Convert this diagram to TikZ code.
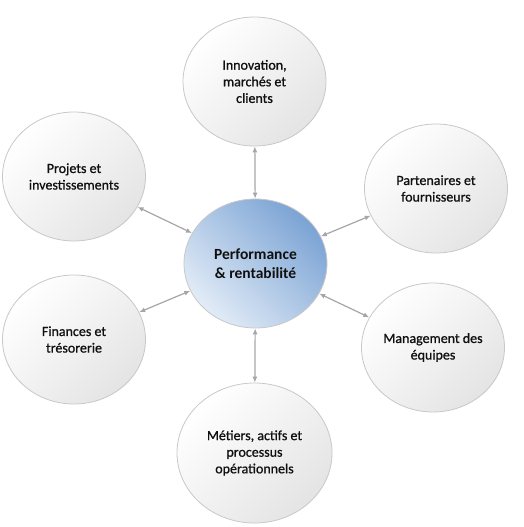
\documentclass[tikz,border=0pt]{standalone}
\usepackage{fontspec}
\setmainfont{Carlito}
\newfontfamily\heavyish[FakeBold=0.9]{Carlito}
\usetikzlibrary{shapes.geometric,arrows.meta}
\definecolor{txt}{HTML}{101010}
\definecolor{rimgray}{HTML}{C8C8C8}
\definecolor{fillhi}{HTML}{FFFFFF}
\definecolor{filllo}{HTML}{E4E4E4}
\definecolor{bluedark}{HTML}{7BA3D4}
\definecolor{bluelight}{HTML}{E2ECF7}
\definecolor{linkgray}{HTML}{A6A6A6}
\tikzset{
  outerbubble/.style={ellipse, inner sep=0pt, draw=rimgray, line width=0.8pt,
    minimum width=143pt, minimum height=129pt, align=center, text=txt,
    top color=fillhi, bottom color=filllo, shading angle=45,
    font=\heavyish\fontsize{14}{16.6}\selectfont},
  bigbubble/.style={outerbubble, minimum width=155pt, minimum height=140pt, shading angle=45},
  hubbubble/.style={ellipse, inner sep=0pt, draw=rimgray, line width=0.8pt,
    minimum width=143pt, minimum height=129pt, align=center, text=txt,
    top color=bluedark, bottom color=bluelight, shading angle=-45,
    font=\bfseries\fontsize{15.5}{19.3}\selectfont},
  link/.style={draw=linkgray, line width=1.2pt,
    {Latex[length=6pt,width=5pt]}-{Latex[length=6pt,width=5pt]}}
}
\begin{document}
\begin{tikzpicture}[x=1pt,y=-1pt]
\useasboundingbox (0,0) rectangle (524,527);
\fill[white] (0,0) rectangle (524,527);
\node[hubbubble] (hub) at (255.5,263.5) {Performance\\\& rentabilité};
\node[outerbubble] (top) at (254.5,81.5) {Innovation,\\marchés et\\clients};
\node[outerbubble] (ul) at (74,176.5) {Projets et\\investissements};
\node[outerbubble] (ur) at (436,188.5) {Partenaires et\\fournisseurs};
\node[outerbubble] (ll) at (74,339.5) {Finances et\\trésorerie};
\node[outerbubble] (lr) at (433,347.5) {Management des\\équipes};
\node[bigbubble] (bot) at (254.5,453) {Métiers, actifs et\\processus\\opérationnels};
\draw[link] (top) -- (hub);
\draw[link] (ul) -- (hub);
\draw[link] (ur) -- (hub);
\draw[link] (ll) -- (hub);
\draw[link] (lr) -- (hub);
\draw[link] (bot) -- (hub);
\end{tikzpicture}
\end{document}
